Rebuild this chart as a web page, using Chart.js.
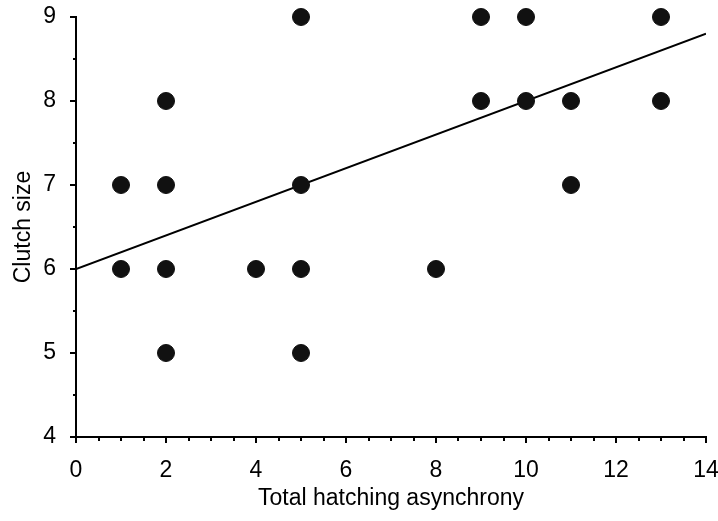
<!DOCTYPE html>
<html><head><meta charset="utf-8">
<script src="https://cdn.jsdelivr.net/npm/chart.js@4/dist/chart.umd.min.js"></script>
<style>html,body{margin:0;padding:0;background:#fff}#wrap{width:718px;height:521px}</style>
</head><body><div id="wrap"><canvas id="c" width="718" height="521"></canvas></div>
<script>
const asynchrony = [1,1,2,2,2,2,4,5,5,5,5,8,9,9,10,10,11,11,13,13];
const clutchSize = [7,6,8,7,6,5,6,9,7,6,5,6,9,8,9,8,8,7,9,8];
const fitX = [0,14];
const fitY = [6,8.8];
const xTickValues = [0,2,4,6,8,10,12,14];
const yTickValues = [4,5,6,7,8,9];

const FONT = {family:'"Liberation Sans", Arial, sans-serif', size:23};

const minorTicks = {
  id:'minorTicks',
  afterDraw(chart){
    const ctx = chart.ctx, x = chart.scales.x, y = chart.scales.y;
    ctx.save();
    ctx.strokeStyle = '#000'; ctx.lineWidth = 2;
    for (let v = 0.5; v < 14; v += 0.5) {
      if (v % 2 === 0) continue;
      const px = Math.round(x.getPixelForValue(v));
      ctx.beginPath(); ctx.moveTo(px, y.bottom); ctx.lineTo(px, y.bottom + 4); ctx.stroke();
    }
    for (let v = 4.5; v < 9; v += 1) {
      const py = Math.round(y.getPixelForValue(v));
      ctx.beginPath(); ctx.moveTo(x.left, py); ctx.lineTo(x.left - 3, py); ctx.stroke();
    }
    ctx.restore();
  }
};

new Chart(document.getElementById('c'), {
  type:'scatter',
  data:{datasets:[
    {type:'line', data: fitX.map((v,i)=>({x:v,y:fitY[i]})), borderColor:'#000', borderWidth:2, pointRadius:0, fill:false, order:2},
    {data: asynchrony.map((v,i)=>({x:v,y:clutchSize[i]})), backgroundColor:'#111', borderColor:'#111', pointRadius:8.5, pointHoverRadius:8.5, clip:false, order:1}
  ]},
  options:{
    responsive:false, animation:false, devicePixelRatio:1,
    layout:{padding:{top:17,right:12,left:0,bottom:0}},
    plugins:{legend:{display:false}, tooltip:{enabled:false}},
    scales:{
      x:{type:'linear', min:0, max:14,
        afterBuildTicks(s){ s.ticks = xTickValues.map(v=>({value:v})); },
        afterFit(s){ s.height = 84; s.paddingLeft = 0; s.paddingRight = 0; },
        ticks:{font:FONT, color:'#000', padding:14, maxRotation:0},
        grid:{drawOnChartArea:false, drawTicks:true, tickLength:6, color:'#000', lineWidth:2},
        border:{display:true, color:'#000', width:2},
        title:{display:true, text:'Total hatching asynchrony', font:FONT, color:'#000', padding:{top:2,bottom:9}}
      },
      y:{type:'linear', min:4, max:9,
        afterBuildTicks(s){ s.ticks = yTickValues.map(v=>({value:v})); },
        afterFit(s){ s.width = 76; s.paddingTop = 0; s.paddingBottom = 0; },
        ticks:{font:FONT, color:'#000', padding:14},
        grid:{drawOnChartArea:false, drawTicks:true, tickLength:6, color:'#000', lineWidth:2},
        border:{display:true, color:'#000', width:2},
        title:{display:true, text:'Clutch size', font:FONT, color:'#000', padding:{top:10,bottom:0}}
      }
    }
  },
  plugins:[minorTicks]
});
</script></body></html>
